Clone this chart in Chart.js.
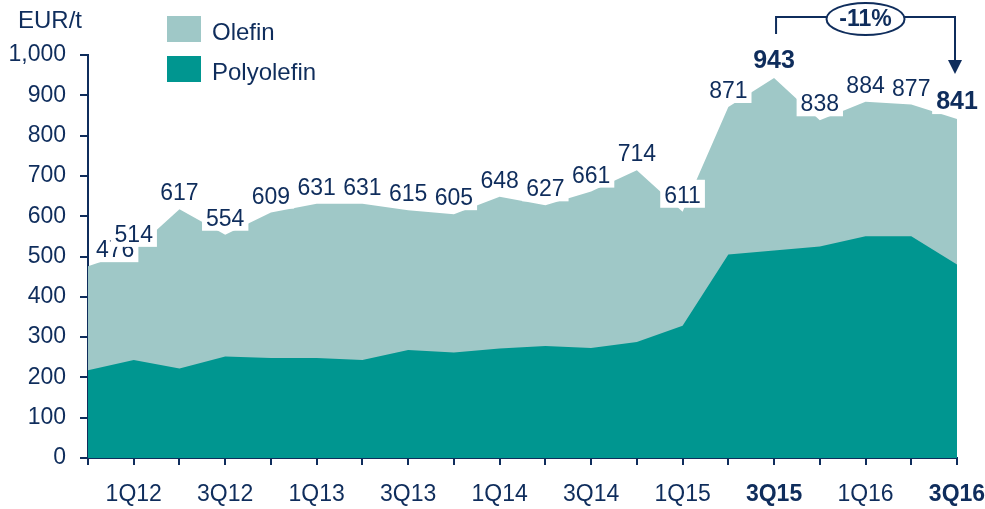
<!DOCTYPE html>
<html>
<head>
<meta charset="utf-8">
<script src="https://cdn.jsdelivr.net/npm/chart.js@4"></script>
<style>
body { margin:0; background:#fff; font-family:"Liberation Sans", Arial, sans-serif; }
#wrap { position:relative; width:985px; height:509px; }
.txt { position:absolute; color:#0f2d5c; font-size:24px; line-height:24px; white-space:nowrap; }
.sw { position:absolute; width:34px; height:26px; }
</style>
</head>
<body>
<div id="wrap">
  <canvas id="chart" width="985" height="509"></canvas>
  <div class="txt" style="left:18px;top:8px;">EUR/t</div>
  <div class="sw" style="left:167px;top:16px;background:#9fc8c7;"></div>
  <div class="txt" style="left:212px;top:20px;">Olefin</div>
  <div class="sw" style="left:167px;top:56px;background:#009690;"></div>
  <div class="txt" style="left:212px;top:60px;">Polyolefin</div>
</div>
<script>
var quarters = ['4Q11','1Q12','2Q12','3Q12','4Q12','1Q13','2Q13','3Q13','4Q13','1Q14','2Q14','3Q14','4Q14','1Q15','2Q15','3Q15','4Q15','1Q16','2Q16','3Q16'];
var olefinTotal = [476, 514, 617, 554, 609, 631, 631, 615, 605, 648, 627, 661, 714, 611, 871, 943, 838, 884, 877, 841];
var polyolefin = [218, 243, 222, 252, 248, 248, 243, 268, 262, 272, 278, 273, 288, 328, 505, 515, 525, 550, 550, 480];
var yTicks = [0, 100, 200, 300, 400, 500, 600, 700, 800, 900, 1000];
var boldQuarters = ['3Q15', '3Q16'];
var changeLabel = '-11%';

var navy = '#0f2d5c';
var font = '"Liberation Sans", Arial, sans-serif';

var valueLabels = {
	id: 'valueLabels',
	afterDatasetsDraw: function(chart) {
		var ctx = chart.ctx;
		var meta = chart.getDatasetMeta(1);
		var area = chart.chartArea;
		ctx.save();
		meta.data.forEach(function(pt, i) {
			var bold = boldQuarters.indexOf(quarters[i]) >= 0;
			var txt = String(olefinTotal[i]);
			ctx.font = bold ? 'bold 25px ' + font : '23px ' + font;
			var w = ctx.measureText(txt).width;
			var x = pt.x;
			if (x - w / 2 < area.left + 8) x = area.left + 8 + w / 2;
			var base = pt.y - (bold ? 10 : 9);
			ctx.fillStyle = '#ffffff';
			ctx.fillRect(x - w / 2 - 4, base - 23, w + 8, 28);
			ctx.fillStyle = navy;
			ctx.textAlign = 'center';
			ctx.textBaseline = 'alphabetic';
			ctx.fillText(txt, x, base);
		});
		ctx.restore();
	}
};

var changeArrow = {
	id: 'changeArrow',
	afterDraw: function(chart) {
		var ctx = chart.ctx;
		var xs = chart.scales.x;
		var x1 = xs.getPixelForValue(quarters.indexOf('3Q15')) + 2;
		var x2 = xs.getPixelForValue(quarters.indexOf('3Q16')) - 2;
		var cx = (x1 + x2) / 2;
		var top = 17;
		ctx.save();
		ctx.strokeStyle = navy;
		ctx.lineWidth = 2;
		ctx.beginPath();
		ctx.moveTo(x1, 34);
		ctx.lineTo(x1, top);
		ctx.lineTo(x2, top);
		ctx.lineTo(x2, 62);
		ctx.stroke();
		ctx.fillStyle = navy;
		ctx.beginPath();
		ctx.moveTo(x2 - 7, 60);
		ctx.lineTo(x2 + 7, 60);
		ctx.lineTo(x2, 74);
		ctx.closePath();
		ctx.fill();
		ctx.fillStyle = '#ffffff';
		ctx.beginPath();
		ctx.ellipse(cx, 19, 39, 16, 0, 0, Math.PI * 2);
		ctx.fill();
		ctx.stroke();
		ctx.fillStyle = navy;
		ctx.font = 'bold 23px ' + font;
		ctx.textAlign = 'center';
		ctx.textBaseline = 'middle';
		ctx.fillText(changeLabel, cx, 20);
		ctx.restore();
	}
};

var ctx = document.getElementById('chart');
var myChart = new Chart(ctx, {
	type: 'line',
	data: {
		labels: quarters,
		datasets: [{
			label: 'Polyolefin',
			data: polyolefin,
			fill: 'origin',
			backgroundColor: '#009690',
			borderWidth: 0,
			pointRadius: 0,
			tension: 0
		},
		{
			label: 'Olefin',
			data: olefinTotal,
			fill: 'origin',
			backgroundColor: '#9fc8c7',
			borderWidth: 0,
			pointRadius: 0,
			tension: 0
		}]
	},
	options: {
		responsive: false,
		animation: false,
		layout: { padding: { top: 55, right: 28, left: 0, bottom: 0 } },
		plugins: { legend: { display: false }, tooltip: { enabled: false } },
		scales: {
			x: {
				offset: false,
				afterFit: function(s) { s.height = 51; s.paddingLeft = 0; s.paddingRight = 0; },
				grid: { drawOnChartArea: false, tickLength: 7, color: navy, lineWidth: 2 },
				border: { color: navy, width: 2 },
				ticks: {
					autoSkip: false,
					maxRotation: 0,
					padding: 16,
					color: navy,
					font: function(c) {
						var b = c.tick && boldQuarters.indexOf(quarters[c.index]) >= 0;
						return { family: font, size: 23, weight: b ? 'bold' : 'normal' };
					},
					callback: function(v, i) { return i % 2 === 1 ? quarters[i] : ''; }
				}
			},
			y: {
				min: 0,
				max: 1000,
				afterFit: function(s) { s.width = 88; s.paddingTop = 0; s.paddingBottom = 0; },
				afterBuildTicks: function(s) { s.ticks = yTicks.map(function(v) { return { value: v }; }); },
				grid: { drawOnChartArea: false, tickLength: 8, color: navy, lineWidth: 2 },
				border: { color: navy, width: 2 },
				ticks: {
					padding: 14,
					color: navy,
					font: { family: font, size: 23 },
					callback: function(v) { return v.toLocaleString('en-US'); }
				}
			}
		}
	},
	plugins: [valueLabels, changeArrow]
});
</script>
</body>
</html>
